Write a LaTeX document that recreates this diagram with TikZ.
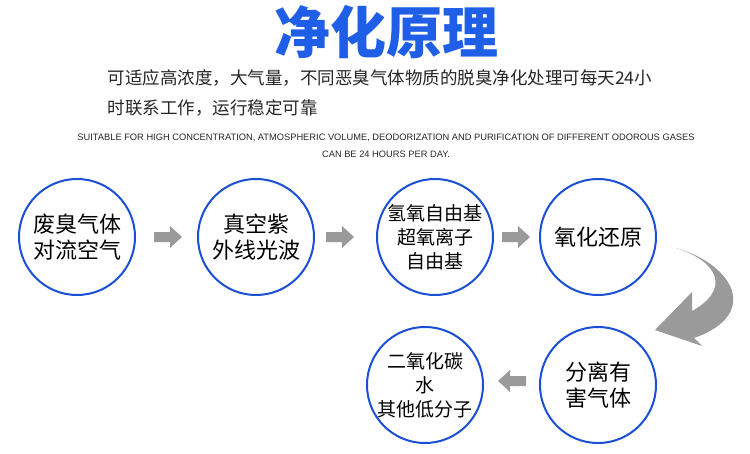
\documentclass[tikz,border=0pt]{standalone}
\usepackage{fontspec}
\setmainfont{Liberation Sans}
\newfontfamily\cjk{Noto Sans CJK SC}
\definecolor{cblue}{HTML}{1A4FD6}
\definecolor{tblue}{HTML}{1F5FE8}
\definecolor{agray}{HTML}{9A9A9A}
\begin{document}
\begin{tikzpicture}[x=1pt,y=-1pt,
  circ/.style={circle,draw=cblue,line width=2pt,minimum size=116pt,inner sep=0pt,align=center,font=\cjk\fontsize{22}{26}\selectfont},
  barrow/.style={fill=agray,draw=none}]
\useasboundingbox (0,0) rectangle (750,453);
\node[font=\cjk\bfseries\fontsize{56}{60}\selectfont,text=tblue] (title) at (386,32) {净化原理};
\node[font=\cjk\fontsize{17.5}{30}\selectfont,anchor=north west,align=left,text=black!85] (para) at (104,66) {可适应高浓度，大气量，不同恶臭气体物质的脱臭净化处理可每天24小\\时联系工作，运行稳定可靠};
\node[font=\fontsize{9.3}{17}\selectfont,align=center,text=black!85] (en) at (386,146) {SUITABLE FOR HIGH CONCENTRATION, ATMOSPHERIC VOLUME, DEODORIZATION AND PURIFICATION OF DIFFERENT ODOROUS GASES\\CAN BE 24 HOURS PER DAY.};
\node[circ] (c1) at (77,237) {废臭气体\\对流空气};
\node[circ] (c2) at (256,237) {真空紫\\外线光波};
\node[circ,font=\cjk\fontsize{19}{24}\selectfont] (c3) at (435,237) {氢氧自由基\\超氧离子\\自由基};
\node[circ] (c4) at (598,237) {氧化还原};
\node[circ] (c5) at (598,385) {分离有\\害气体};
\node[circ,font=\cjk\fontsize{19}{24}\selectfont] (c6) at (425,385) {二氧化碳\\水\\其他低分子};
\foreach \n/\x/\y/\d in {a1/168/237/1,a2/340/237/1,a3/516/237/1,a4/512/381/-1}{
  \coordinate (\n) at (\x,\y);
  \fill[agray] ([shift={(-14*\d,-5)}]\n) -- ([shift={(2*\d,-5)}]\n) -- ([shift={(2*\d,-11)}]\n) -- ([shift={(14*\d,0)}]\n) -- ([shift={(2*\d,11)}]\n) -- ([shift={(2*\d,5)}]\n) -- ([shift={(-14*\d,5)}]\n) -- cycle;
}
\fill[agray] (676,248) .. controls (735,265) and (760,315) .. (694,338)
  -- (702,346) -- (655,330) -- (692,292) -- (692,311)
  .. controls (730,290) and (720,262) .. (676,248) -- cycle;
\end{tikzpicture}
\end{document}
